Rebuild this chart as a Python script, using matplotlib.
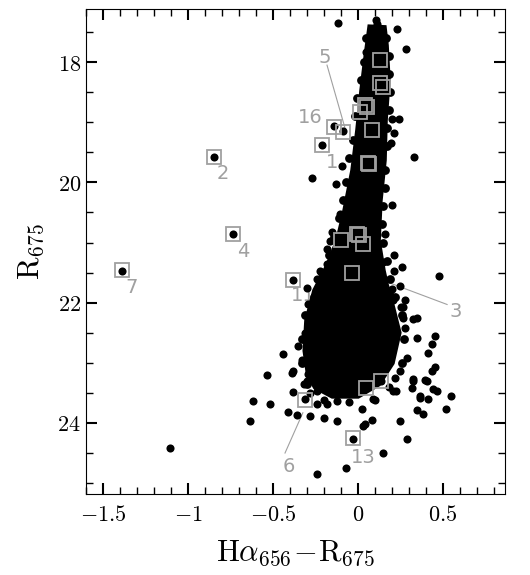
import numpy as np
from matplotlib import pyplot as plt
from matplotlib.ticker import MultipleLocator

plt.rcParams['mathtext.fontset'] = 'cm'
plt.rcParams['font.family'] = 'DejaVu Serif'
plt.rcParams['axes.formatter.use_mathtext'] = True

# outline of the dense (saturated) part of the sequence
core_x = [0.071, 0.053, 0.024, 0.0, -0.029, -0.076, -0.118, -0.176, -0.253, -0.30,
          -0.31, -0.29, -0.25, -0.15, 0.0, 0.12, 0.20, 0.24, 0.20, 0.165,
          0.147, 0.118, 0.129, 0.153, 0.159, 0.176, 0.165, 0.153]
core_y = [17.42, 17.80, 18.47, 19.13, 19.80, 20.47, 20.97, 21.38, 21.80, 22.30,
          22.80, 23.20, 23.40, 23.55, 23.55, 23.35, 23.00, 22.50, 22.05, 21.70,
          21.47, 20.97, 20.30, 19.63, 18.97, 18.30, 17.72, 17.43]

# stars sitting on the ragged edge of the core
edge_x = [0.05, 0.035, 0.015, -0.005, -0.02, -0.03, -0.05, -0.07, -0.09, -0.11,
          -0.14, -0.17, -0.21, -0.26, -0.31, -0.33, -0.33, -0.30,
          0.165, 0.185, 0.18, 0.19, 0.18, 0.17, 0.17, 0.16, 0.16, 0.15, 0.14,
          0.15, 0.17, 0.19, 0.22, 0.26, 0.27, 0.26]
edge_y = [17.6, 18.0, 18.3, 18.6, 18.9, 19.3, 19.6, 20.0, 20.3, 20.6,
          20.9, 21.2, 21.5, 21.9, 22.2, 22.6, 23.0, 23.35,
          17.6, 17.9, 18.2, 18.5, 18.8, 19.1, 19.4, 19.8, 20.1, 20.4, 20.7,
          21.0, 21.3, 21.6, 21.9, 22.2, 22.6, 23.0]

# individual stars outside the dense core
star_x = [-0.118, 0.106, 0.112, 0.229, 0.047, 0.282, 0.20, 0.24, 0.212, 0.194,
          0.329, -0.094, -0.271, -0.129, -0.141, -0.088, -0.212, -0.847,
          0.20, -0.106, 0.159, 0.112, -0.153, -0.165, -0.182, 0.212, 0.147,
          0.259, -0.182, 0.212, 0.476, -0.224, -0.241, 0.247, 0.20, -0.30,
          -0.241, 0.188, 0.276, 0.206, -0.294, 0.253, -0.271, 0.265, 0.347,
          -0.265, 0.276, 0.453, -0.30, 0.435, 0.412, -0.441, -0.353, -0.382,
          -0.735, -1.388, -0.535, -0.388, -0.294, -0.382, -0.618, -0.518,
          -0.635, -0.412, -0.359, -0.282, -0.20, -0.124, -0.241, -0.182,
          -0.124, 0.024, 0.041, 0.082, 0.088, 0.247, 0.224, 0.365, 0.412,
          0.347, 0.382, 0.518, 0.547, 0.441, 0.453, 0.394, 0.318, 0.324,
          0.288, 0.147, -0.071, -0.241, -1.106, -0.029, -0.312, 0.041, 0.135,
          -0.312, -0.382, -0.30, -0.241, -0.165, -0.065, 0.206, 0.265, 0.324,
          0.347, 0.288, 0.247, 0.324, 0.406, 0.365, 0.206, 0.435, 0.465,
          0.029, -0.33, -0.32, -0.28, 0.18, 0.22, 0.10, -0.05, -0.20]
star_y = [17.35, 17.30, 17.37, 17.45, 17.83, 17.78, 18.95, 18.95, 19.18, 19.35,
          19.57, 19.72, 19.93, 20.03, 19.07, 19.15, 19.38, 19.58,
          20.37, 20.52, 20.85, 20.87, 20.83, 20.97, 21.10, 21.20, 21.33,
          21.40, 21.35, 21.48, 21.55, 21.48, 21.60, 21.72, 21.77, 21.75,
          21.80, 21.88, 21.95, 21.95, 22.02, 22.08, 22.25, 22.25, 22.25,
          22.35, 22.42, 22.55, 22.50, 22.68, 22.83, 22.85, 22.72, 21.62,
          20.85, 21.47, 23.20, 23.17, 23.18, 23.48, 23.63, 23.68,
          23.97, 23.82, 23.87, 23.88, 23.92, 23.97, 23.68, 23.68,
          23.63, 23.77, 24.02, 23.95, 23.60, 23.97, 23.47, 23.55, 23.60,
          23.78, 23.85, 23.77, 23.55, 23.43, 23.07, 23.28, 23.42, 23.27,
          24.27, 24.50, 24.75, 24.85, 24.42, 24.27, 23.60, 23.42, 23.30,
          22.50, 23.13, 23.30, 23.47, 23.42, 23.47, 21.93, 22.08, 22.27,
          22.58, 22.92, 23.13, 23.30, 23.30, 23.58, 23.47, 23.13, 23.47,
          24.05, 22.95, 23.35, 23.50, 23.40, 23.25, 23.62, 23.65, 23.62]

# highlighted (numbered) objects
box_x = [0.129, 0.129, 0.147, 0.041, 0.012, 0.053, 0.082, 0.059, 0.065,
         -0.141, -0.088, -0.212, -0.847, -0.10, -0.006, 0.006, 0.029,
         -0.035, -0.735, -1.388, -0.382, -0.312, 0.047, 0.135, -0.029]
box_y = [17.97, 18.35, 18.42, 18.72, 18.83, 18.75, 19.13, 19.67, 19.70,
         19.08, 19.17, 19.38, 19.58, 20.95, 20.85, 20.87, 21.02,
         21.50, 20.85, 21.45, 21.62, 23.62, 23.42, 23.30, 24.25]

label_txt = ['5', '16', '1', '2', '4', '7', '11', '3', '6', '13']
label_x = [-0.194, -0.282, -0.153, -0.794, -0.676, -1.329, -0.324, 0.576, -0.406, 0.029]
label_y = [17.92, 18.92, 19.67, 19.85, 21.15, 21.75, 21.88, 22.15, 24.73, 24.58]

# leader lines: label 5, label 3, label 6
lead_x = [[-0.182, -0.076], [0.053, 0.524], [-0.429, -0.324]]
lead_y = [[18.05, 19.10], [21.53, 22.03], [24.50, 23.83]]

grey = '#a0a0a0'

fig = plt.figure(figsize=(5.3, 5.75), dpi=100)
ax = fig.add_axes([0.162, 0.141, 0.791, 0.843])

for i in range(len(label_txt)):
    ax.text(label_x[i], label_y[i], label_txt[i], color=grey, fontsize=14,
            family='DejaVu Sans', ha='center', va='center', zorder=1)
for lx, ly in zip(lead_x, lead_y):
    ax.plot(lx, ly, color=grey, lw=0.8, zorder=1)

ax.fill(core_x, core_y, color='black', lw=4, edgecolor='black', zorder=2)
ax.scatter(edge_x, edge_y, s=40, color='black', lw=0, zorder=3)
ax.scatter(star_x, star_y, s=34, color='black', lw=0, zorder=3)
ax.plot(box_x, box_y, 's', ms=9.5, mfc='none', mec=grey, mew=1.3, zorder=4)

ax.set_xlim(-1.6, 0.865)
ax.set_ylim(25.18, 17.12)
ax.xaxis.set_major_locator(MultipleLocator(0.5))
ax.xaxis.set_minor_locator(MultipleLocator(0.1))
ax.yaxis.set_major_locator(MultipleLocator(2))
ax.yaxis.set_minor_locator(MultipleLocator(0.5))
ax.tick_params(which='both', direction='in', top=True, right=True, labelsize=16)
ax.tick_params(which='major', length=8, width=1.5)
ax.tick_params(which='minor', length=5, width=1)
ax.tick_params(axis='x', pad=7)
ax.set_xticks([-1.5, -1, -0.5, 0, 0.5])
ax.set_xticklabels(['$-1.5$', '$-1$', '$-0.5$', '$0$', '$0.5$'])
ax.set_yticks([18, 20, 22, 24])
ax.set_yticklabels(['$18$', '$20$', '$22$', '$24$'])

ax.set_xlabel(r'$\mathrm{H}\alpha_{656}\!-\!\mathrm{R}_{675}$', fontsize=22, labelpad=8)
ax.set_ylabel(r'$\mathrm{R}_{675}$', fontsize=22, labelpad=8)

fig.savefig('out.png', dpi=100)
